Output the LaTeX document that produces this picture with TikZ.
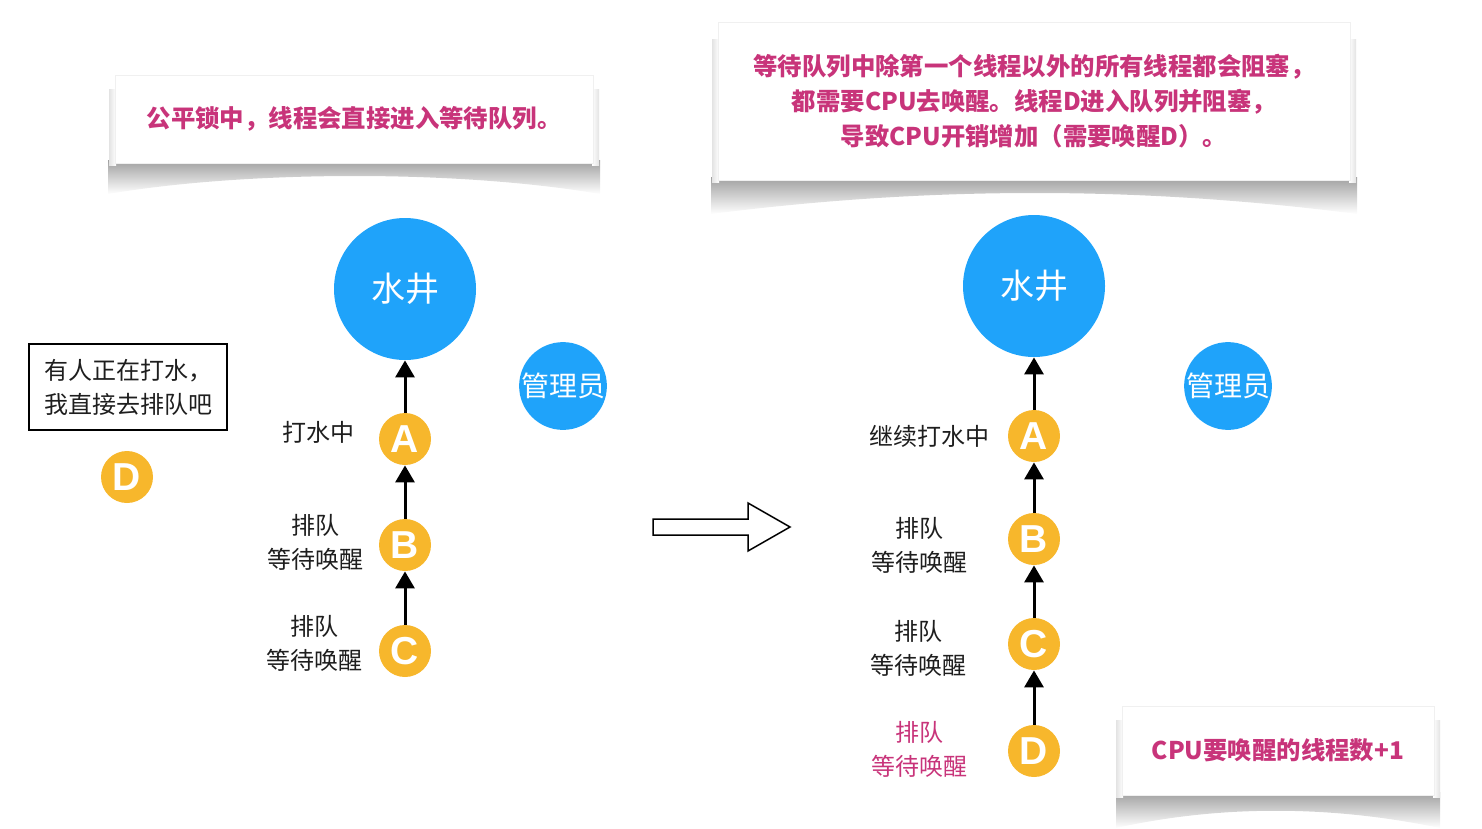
\documentclass[tikz,border=0pt]{standalone}
\usepackage{fontspec}
\setmainfont{Noto Sans CJK SC}
\newfontfamily\letterfont{Liberation Sans}
\usetikzlibrary{arrows.meta,calc}
\definecolor{wellblue}{RGB}{31,163,250}
\definecolor{thorange}{RGB}{247,183,44}
\definecolor{calloutpink}{RGB}{200,52,122}
\definecolor{labeltext}{RGB}{30,30,30}
\begin{document}
\begin{tikzpicture}[x=0.5pt,y=-0.5pt,
  wellnode/.style={circle,fill=wellblue,text=white,minimum size=71pt,inner sep=0pt,font=\fontsize{17pt}{20pt}\selectfont},
  mgrnode/.style={circle,fill=wellblue,text=white,minimum size=43pt,inner sep=0pt,font=\fontsize{14pt}{16pt}\selectfont},
  thnode/.style={circle,fill=thorange,text=white,minimum size=26pt,inner sep=0pt,font=\letterfont\bfseries\fontsize{19.5pt}{20pt}\selectfont},
  lbl/.style={align=center,text=labeltext,font=\fontsize{12pt}{17pt}\selectfont,inner sep=0pt},
  callout/.style={fill=white,draw=gray!12,line width=0.3pt,align=center,text=calloutpink,inner sep=0pt,font=\bfseries\fontsize{12.2pt}{17.5pt}\selectfont},
  shadowfill/.style={top color=gray!75,bottom color=white,draw=none},
  sideL/.style={left color=gray!22,right color=white,draw=none},
  sideR/.style={left color=white,right color=gray!22,draw=none},
  flow/.style={line width=1.5pt,-{Triangle[length=8.5pt,width=9.5pt]}},
  hollow/.style={draw=black,fill=white,line width=0.75pt,line join=miter}
]
\useasboundingbox (0,0) rectangle (1482,829);
% ---------- callout 1 ----------
\path[shadowfill] (108,160) -- (108,194) .. controls (250,170) and (460,170) .. (600,194) -- (600,160) -- cycle;
\path[sideL] (109,90) rectangle (116,165);
\path[sideR] (592,90) rectangle (599,165);
\node[callout,minimum width=239pt,minimum height=44pt] (c1) at (354,119) {公平锁中，线程会直接进入等待队列。};
% ---------- callout 2 ----------
\path[shadowfill] (711,177) -- (711,214) .. controls (930,186) and (1140,186) .. (1357,214) -- (1357,177) -- cycle;
\path[sideL] (712,40) rectangle (719,182);
\path[sideR] (1349,40) rectangle (1356,182);
\node[callout,minimum width=316pt,minimum height=79pt] (c2) at (1034,101) {等待队列中除第一个线程以外的所有线程都会阻塞，\\都需要CPU去唤醒。线程D进入队列并阻塞，\\导致CPU开销增加（需要唤醒D）。};
% ---------- callout 3 ----------
\path[shadowfill] (1116,792) -- (1116,828) .. controls (1220,805) and (1330,805) .. (1440,828) -- (1440,792) -- cycle;
\path[sideL] (1116,720) rectangle (1123,797);
\path[sideR] (1433,720) rectangle (1440,797);
\node[callout,minimum width=156pt,minimum height=44.5pt] (c3) at (1278,750.5) {CPU要唤醒的线程数+1};
% ---------- left scene ----------
\node[wellnode] (wellL) at (405,289) {水井};
\node[mgrnode] (mgrL) at (563,386) {管理员};
\node[thnode] (aL) at (405,439) {A};
\node[thnode] (bL) at (405,545) {B};
\node[thnode] (cL) at (405,651) {C};
\draw[flow] (aL) -- (wellL);
\draw[flow] (bL) -- (aL);
\draw[flow] (cL) -- (bL);
\node[lbl] (laL) at (318,432) {打水中};
\node[lbl] (lbL) at (315,542) {排队\\等待唤醒};
\node[lbl] (lcL) at (314,643) {排队\\等待唤醒};
\node[draw=black,line width=0.8pt,minimum width=99pt,minimum height=43pt,align=left,inner sep=0pt,text=labeltext,font=\fontsize{12pt}{17pt}\selectfont] (note) at (128,387) {有人正在打水，\\我直接去排队吧};
\node[thnode] (dL) at (127,477) {D};
% ---------- transition arrow ----------
\draw[hollow] (653,519) -- (748,519) -- (748,503) -- (790,527) -- (748,551) -- (748,535) -- (653,535) -- cycle;
% ---------- right scene ----------
\node[wellnode] (wellR) at (1034,286) {水井};
\node[mgrnode] (mgrR) at (1228,386) {管理员};
\node[thnode] (aR) at (1034,436) {A};
\node[thnode] (bR) at (1034,539) {B};
\node[thnode] (cR) at (1034,644) {C};
\node[thnode] (dR) at (1034,751) {D};
\draw[flow] (aR) -- (wellR);
\draw[flow] (bR) -- (aR);
\draw[flow] (cR) -- (bR);
\draw[flow] (dR) -- (cR);
\node[lbl] (laR) at (929,436) {继续打水中};
\node[lbl] (lbR) at (919,545) {排队\\等待唤醒};
\node[lbl] (lcR) at (918,648) {排队\\等待唤醒};
\node[lbl,text=calloutpink] (ldR) at (919,749) {排队\\等待唤醒};
\end{tikzpicture}
\end{document}
